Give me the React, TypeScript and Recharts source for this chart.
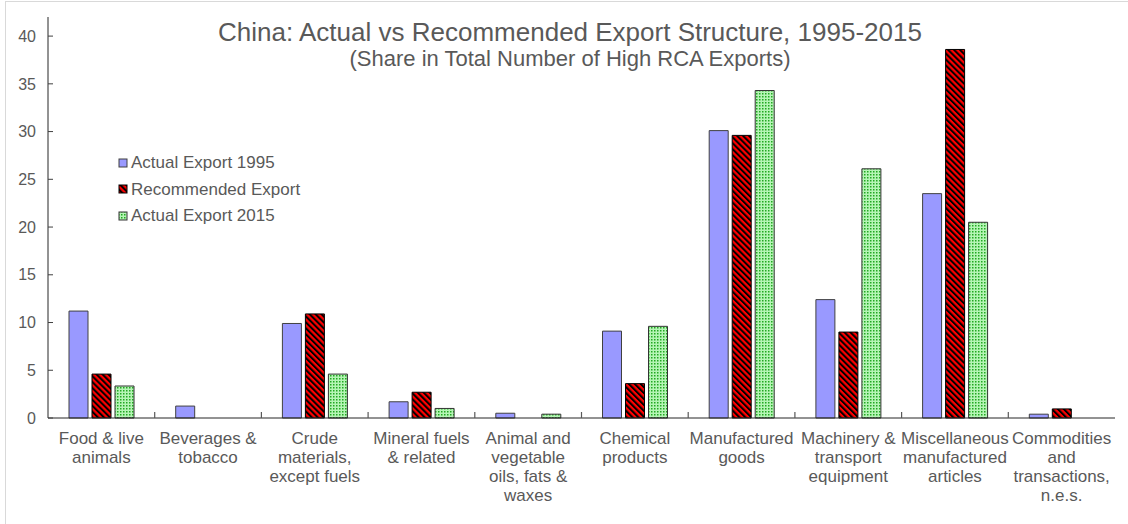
import { BarChart, Bar, XAxis, YAxis, Legend } from "recharts";

const categories = [
  "Food & live\nanimals",
  "Beverages &\ntobacco",
  "Crude\nmaterials,\nexcept fuels",
  "Mineral fuels\n& related",
  "Animal and\nvegetable\noils, fats &\nwaxes",
  "Chemical\nproducts",
  "Manufactured\ngoods",
  "Machinery &\ntransport\nequipment",
  "Miscellaneous\nmanufactured\narticles",
  "Commodities\nand\ntransactions,\nn.e.s.",
];

const actual1995 = [11.2, 1.25, 9.9, 1.7, 0.5, 9.1, 30.1, 12.4, 23.5, 0.4];
const recommended = [4.6, 0, 10.9, 2.7, 0, 3.6, 29.6, 9.0, 38.6, 0.95];
const actual2015 = [3.35, 0, 4.6, 1.0, 0.4, 9.6, 34.3, 26.1, 20.5, 0];

const yTicks = [0, 5, 10, 15, 20, 25, 30, 35, 40];

const seriesNames = ["Actual Export 1995", "Recommended Export", "Actual Export 2015"];

const data = categories.map((name, i) => ({
  name,
  a1995: actual1995[i],
  rec: recommended[i],
  a2015: actual2015[i],
}));

const FONT = "'Liberation Sans', Arial, sans-serif";
const TEXT = "#595959";

const W = 1128;
const H = 524;
const MARGIN = { top: 17, right: 13, bottom: 16, left: 0 };
const Y_AXIS_W = 48;
const BAND = (W - MARGIN.left - MARGIN.right - Y_AXIS_W) / categories.length;

// label lines + a small inward tick on the left boundary of each category
const CategoryTick = (props: any) => {
  const { x, y, payload } = props;
  const idx = categories.indexOf(payload.value);
  const lines = String(payload.value).split("\n");
  const bx = x - BAND / 2;
  return (
    <g>
      {idx > 0 && <line x1={bx} x2={bx} y1={y} y2={y - 6} stroke="#595959" strokeWidth={1.2} />}
      <text x={x} y={y} textAnchor="middle" fill={TEXT} fontSize={17} fontFamily={FONT}>
        {lines.map((l, i) => (
          <tspan key={i} x={x} dy={i === 0 ? 26 : 19}>
            {l}
          </tspan>
        ))}
      </text>
    </g>
  );
};

const legendFills = ["#9999ff", "url(#redStripe)", "url(#greenDots)"];
const legendStrokes = ["#404040", "#000", "#333"];

const LegendBox = () => (
  <div style={{ fontFamily: FONT, fontSize: 17, color: TEXT, lineHeight: "26.5px" }}>
    {seriesNames.map((n, i) => (
      <div key={n} style={{ display: "flex", alignItems: "center" }}>
        <svg width={11} height={11} style={{ marginRight: 2 }}>
          <rect x={1} y={1} width={8} height={8} fill={legendFills[i]} stroke={legendStrokes[i]} />
        </svg>
        {n}
      </div>
    ))}
  </div>
);

export default function App() {
  return (
    <div style={{ position: "relative", width: W, height: H, background: "#fff", overflow: "hidden" }}>
      <style>{`body{margin:0}`}</style>
      <div
        style={{
          position: "absolute",
          left: 5,
          top: 1,
          width: 1130,
          height: 530,
          border: "1px solid #d9d9d9",
        }}
      />
      <BarChart width={W} height={H} data={data} margin={MARGIN} barSize={19} barGap={4}>
        <defs>
          <pattern id="redStripe" width="4.2" height="4.2" patternUnits="userSpaceOnUse" patternTransform="rotate(-45)">
            <rect width="4.2" height="4.2" fill="#ff0000" />
            <rect width="2" height="4.2" fill="#000" />
          </pattern>
          <pattern id="greenDots" width="3" height="3" patternUnits="userSpaceOnUse">
            <rect width="3" height="3" fill="#b5f5b5" />
            <rect width="1.5" height="1.5" fill="#22a822" />
          </pattern>
        </defs>
        <XAxis
          dataKey="name"
          interval={0}
          height={90}
          tickSize={0}
          tickMargin={0}
          tickLine={false}
          axisLine={{ stroke: "#262626" }}
          tick={<CategoryTick />}
        />
        <XAxis xAxisId="t" orientation="top" dataKey="name" height={0} tick={false} tickLine={false} axisLine={{ stroke: "#404040" }} />
        <YAxis
          domain={[0, 42]}
          ticks={yTicks}
          width={Y_AXIS_W}
          tickSize={-5}
          tickMargin={17}
          axisLine={{ stroke: "#262626" }}
          tickLine={{ stroke: "#404040" }}
          tick={{ fill: TEXT, fontSize: 16, fontFamily: FONT }}
        />
        <YAxis yAxisId="r" orientation="right" domain={[0, 42]} width={0} tick={false} tickLine={false} axisLine={{ stroke: "#808080" }} />
        <Legend
          layout="vertical"
          align="center"
          verticalAlign="middle"
          wrapperStyle={{ left: 118, top: 150, width: 220 }}
          content={<LegendBox />}
        />
        <Bar dataKey="a1995" name={seriesNames[0]} fill="#9999ff" stroke="#404040" strokeWidth={1} isAnimationActive={false} />
        <Bar dataKey="rec" name={seriesNames[1]} fill="url(#redStripe)" stroke="#000" strokeWidth={1} isAnimationActive={false} />
        <Bar dataKey="a2015" name={seriesNames[2]} fill="url(#greenDots)" stroke="#333" strokeWidth={1} isAnimationActive={false} />
      </BarChart>
      <div
        style={{
          position: "absolute",
          left: 0,
          width: 1140,
          top: 18,
          textAlign: "center",
          fontFamily: FONT,
          color: TEXT,
          pointerEvents: "none",
        }}
      >
        <div style={{ fontSize: 26, lineHeight: "28px" }}>China: Actual vs Recommended Export Structure, 1995-2015</div>
        <div style={{ fontSize: 22, lineHeight: "26px" }}>(Share in Total Number of High RCA Exports)</div>
      </div>
    </div>
  );
}
